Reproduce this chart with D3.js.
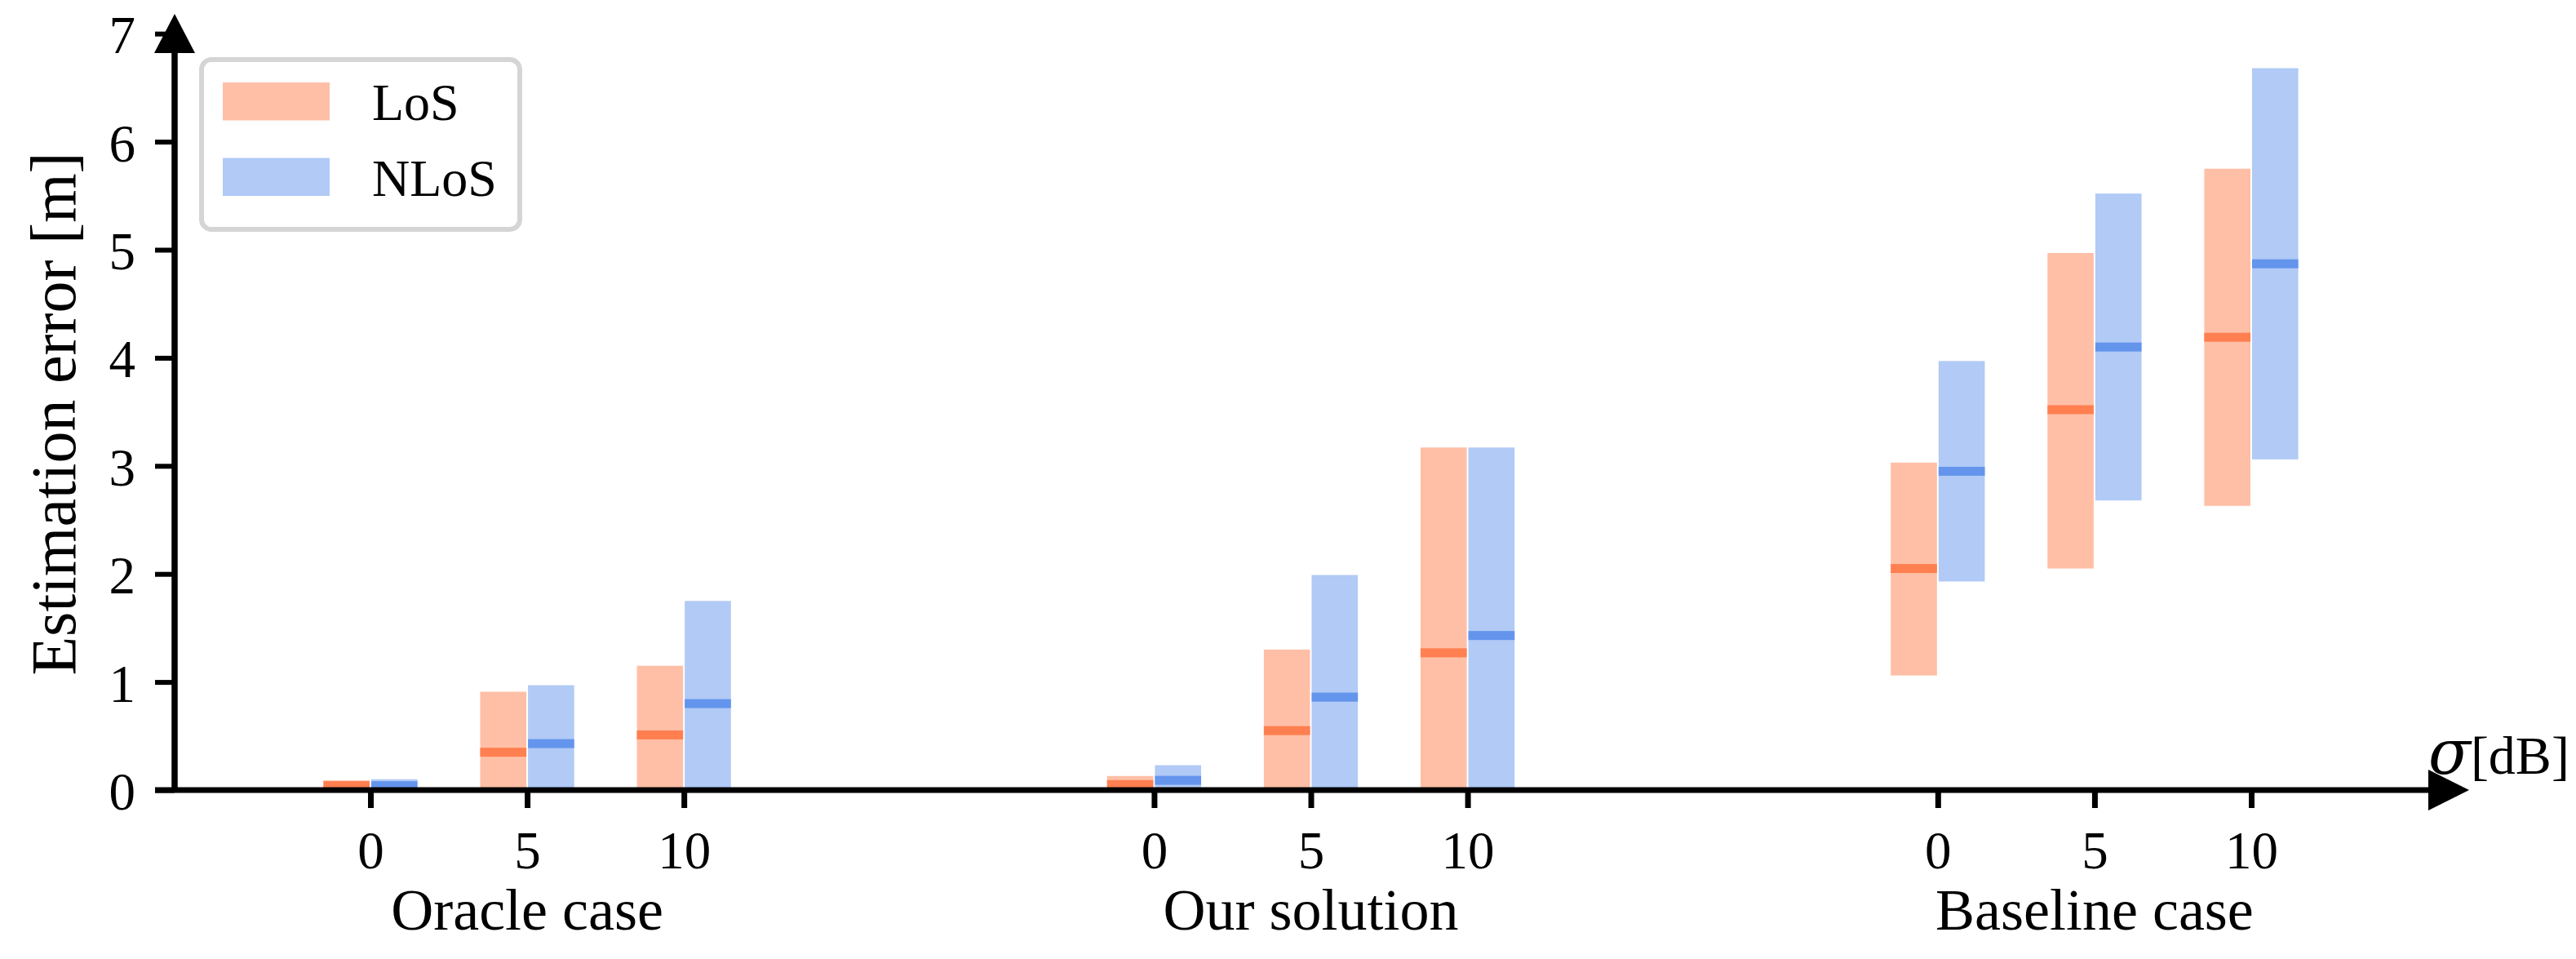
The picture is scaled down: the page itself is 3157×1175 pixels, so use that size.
<!DOCTYPE html>
<html lang="en">
<head>
<meta charset="utf-8">
<style>
    body { margin: 0; background: #fff; }
    svg text { font-family: "Liberation Serif", "Times New Roman", serif; fill: #000; }
</style>
</head>
<body>
<svg width="3157" height="1175"></svg>
<script src="https://cdn.jsdelivr.net/npm/d3@7"></script>
<script>

    // data: lower edge, median and upper edge of each bar
    var groups = ["Oracle case", "Our solution", "Baseline case"];
    var sigmas = [0, 5, 10];
    var series = ["LoS", "NLoS"];

    var losLow  = [0, 0, 0,     0, 0, 0,        1.06, 2.05, 2.63];
    var losMed  = [0.04, 0.35, 0.51,  0.05, 0.55, 1.27,  2.05, 3.52, 4.19];
    var losHigh = [0.09, 0.91, 1.15,  0.13, 1.30, 3.17,  3.03, 4.97, 5.75];

    var nlosLow  = [0, 0, 0,     0, 0, 0,        1.93, 2.68, 3.06];
    var nlosMed  = [0.04, 0.43, 0.80,  0.09, 0.86, 1.43,  2.95, 4.10, 4.87];
    var nlosHigh = [0.10, 0.97, 1.75,  0.23, 1.99, 3.17,  3.97, 5.52, 6.68];

    var yTicks = [0, 1, 2, 3, 4, 5, 6, 7];

    var lightColor = { LoS: "#ffbfa7", NLoS: "#b1caf6" };
    var darkColor  = { LoS: "#ff7f50", NLoS: "#6495ed" };

    var svg = d3.select("svg");

    // position of each (group, sigma) slot on a unit axis: groups are 5 slots apart
    var slots = [];
    groups.forEach(function (g, gi) {
        sigmas.forEach(function (s, si) {
            slots.push({ group: g, sigma: s, u: gi * 5 + si });
        });
    });

    var x = d3.scaleLinear().domain([0, 12]).range([454, 2759]);
    var y = d3.scaleLinear().domain([0, 7]).range([968, 41.2]);
    var barW = x(0.3) - x(0);

    var rows = slots.map(function (d, i) {
        return [
            { s: "LoS", u: d.u, off: -0.3, lo: losLow[i], med: losMed[i], hi: losHigh[i] },
            { s: "NLoS", u: d.u, off: 0, lo: nlosLow[i], med: nlosMed[i], hi: nlosHigh[i] }
        ];
    }).flat();

    // bars
    svg.append("g").selectAll("rect")
        .data(rows)
        .enter().append("rect")
        .attr("x", function (d) { return x(d.u + d.off) + (d.s == "NLoS" ? 1 : 0); })
        .attr("width", barW - 1)
        .attr("y", function (d) { return y(d.hi); })
        .attr("height", function (d) { return y(d.lo) - y(d.hi); })
        .attr("fill", function (d) { return lightColor[d.s]; });

    // medians
    svg.append("g").selectAll("rect")
        .data(rows)
        .enter().append("rect")
        .attr("x", function (d) { return x(d.u + d.off) + (d.s == "NLoS" ? 1 : 0); })
        .attr("width", barW - 1)
        .attr("y", function (d) { return y(d.med) - 5.5; })
        .attr("height", 11)
        .attr("fill", function (d) { return darkColor[d.s]; });

    // y axis
    var gy = svg.append("g")
        .attr("transform", "translate(214,0)")
        .call(d3.axisLeft(y).tickValues(yTicks).tickFormat(d3.format("d")).tickSize(24).tickPadding(24));
    gy.select(".domain").remove();
    gy.selectAll(".tick line").attr("stroke", "#000").attr("stroke-width", 6);
    gy.selectAll(".tick text").attr("font-size", 65).attr("dy", "0.36em")
        .style("font-family", "'Liberation Serif', 'Times New Roman', serif");

    // x axis
    var gx = svg.append("g")
        .attr("transform", "translate(0,968)")
        .call(d3.axisBottom(x)
            .tickValues(slots.map(function (d) { return d.u; }))
            .tickFormat(function (u) { return slots.find(function (d) { return d.u == u; }).sigma; })
            .tickSize(22));
    gx.select(".domain").remove();
    gx.selectAll(".tick line").attr("stroke", "#000").attr("stroke-width", 7);
    gx.selectAll(".tick text").attr("font-size", 65).attr("y", 96).attr("dy", 0)
        .style("font-family", "'Liberation Serif', 'Times New Roman', serif");

    // spines with arrows
    svg.append("line").attr("x1", 214).attr("x2", 214).attr("y1", 971).attr("y2", 60)
        .attr("stroke", "#000").attr("stroke-width", 7.5);
    svg.append("line").attr("x1", 190).attr("x2", 2980).attr("y1", 968).attr("y2", 968)
        .attr("stroke", "#000").attr("stroke-width", 7);
    svg.append("path").attr("d", "M214,17L189,65L239,65Z").attr("fill", "#000");
    svg.append("path").attr("d", "M3026,968L2976,943L2976,993Z").attr("fill", "#000");

    // group labels
    svg.append("g").selectAll("text")
        .data(groups)
        .enter().append("text")
        .attr("x", function (d, i) { return x(i * 5 + 1); })
        .attr("y", 1139)
        .attr("text-anchor", "middle")
        .attr("font-size", 72)
        .text(function (d) { return d; });

    // axis titles
    svg.append("text")
        .attr("transform", "translate(92,507) rotate(-90)")
        .attr("text-anchor", "middle")
        .attr("font-size", 78)
        .text("Estimation error [m]");

    var sig = svg.append("text").attr("x", 2976).attr("y", 948).attr("font-size", 66);
    sig.append("tspan").attr("font-style", "italic").attr("font-size", 76)
        .style("font-family", "'DejaVu Serif', serif").text("σ");
    sig.append("tspan").text("[dB]");

    // legend
    var lg = svg.append("g");
    lg.append("rect")
        .attr("x", 247).attr("y", 73).attr("width", 390).attr("height", 208)
        .attr("rx", 12).attr("fill", "#fff")
        .attr("stroke", "#d5d5d5").attr("stroke-width", 6);
    lg.selectAll(".patch")
        .data(series)
        .enter().append("rect")
        .attr("x", 273).attr("width", 131)
        .attr("y", function (d, i) { return 101 + i * 92.5; })
        .attr("height", 46.5)
        .attr("fill", function (d) { return lightColor[d]; });
    lg.selectAll("text")
        .data(series)
        .enter().append("text")
        .attr("x", 456)
        .attr("y", function (d, i) { return 147 + i * 93; })
        .attr("font-size", 64)
        .text(function (d) { return d; });

</script>
</body>
</html>
